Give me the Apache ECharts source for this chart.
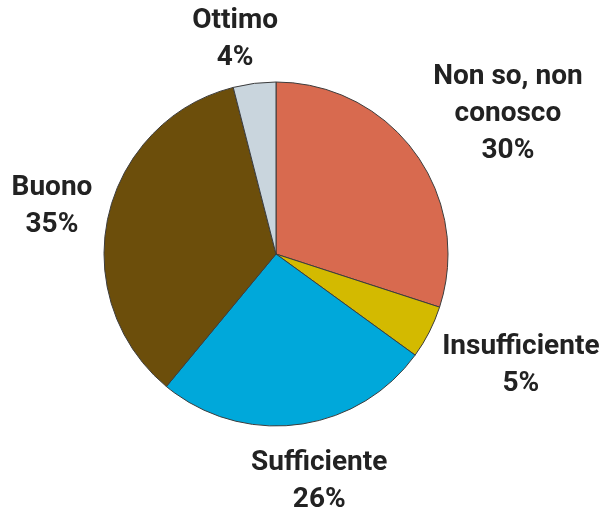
<!DOCTYPE html>
<html>
<head>
<meta charset="utf-8">
<script src="https://cdn.jsdelivr.net/npm/echarts@6/dist/echarts.min.js"></script>
<style>
    html, body {margin: 0; padding: 0; background: #fff;}
    #main {width: 606px; height: 509px;}
</style>
</head>
<body>
<div id="main"></div>
<script>
    // dati
    var categories = ['Non so, non\nconosco', 'Insufficiente', 'Sufficiente', 'Buono', 'Ottimo'];
    var percentages = [30, 5, 26, 35, 4];
    var colors = ['#D86A4F', '#D3BA00', '#00A8DA', '#6C4E0B', '#C9D5DD'];

    // piccoli spostamenti delle etichette (come nell'originale)
    var labelNudge = [[11, 21], [7, -10], [15, 4], [-2, 2], [-13, 6]];

    var chart = echarts.init(document.getElementById('main'));
    var cx = 276, cy = 254, r = 172;
    var total = percentages.reduce(function (a, b) { return a + b; }, 0);

    // angolo centrale di ogni fetta, da mezzogiorno in senso orario
    var mids = [];
    var acc = 0;
    percentages.forEach(function (v) {
        mids.push((acc + v / 2) / total * 2 * Math.PI);
        acc += v;
    });

    chart.setOption({
        animation: false,
        series: [{
            type: 'pie',
            center: [cx, cy],
            radius: r,
            startAngle: 90,
            clockwise: true,
            itemStyle: {borderColor: '#3c3c3c', borderWidth: 1},
            label: {
                show: true, position: 'outside', overflow: 'none',
                formatter: '{b}\n{d}%',
                fontFamily: 'Roboto', fontWeight: 'bold', fontSize: 28,
                lineHeight: 37, color: '#222', align: 'center'
            },
            labelLine: {show: false},
            labelLayout: function (params) {
                var i = params.dataIndex;
                var a = mids[i];
                var ux = Math.sin(a), uy = -Math.cos(a);
                var w = params.labelRect.width, h = params.labelRect.height;
                var d = r + 8 + w / 2 * Math.abs(ux) + h / 2 * Math.abs(uy);
                return {
                    x: cx + d * ux + labelNudge[i][0],
                    y: cy + d * uy + labelNudge[i][1],
                    align: 'center',
                    verticalAlign: 'middle'
                };
            },
            data: categories.map(function (name, i) {
                return {name: name, value: percentages[i], itemStyle: {color: colors[i]}};
            })
        }]
    });
</script>
</body>
</html>
